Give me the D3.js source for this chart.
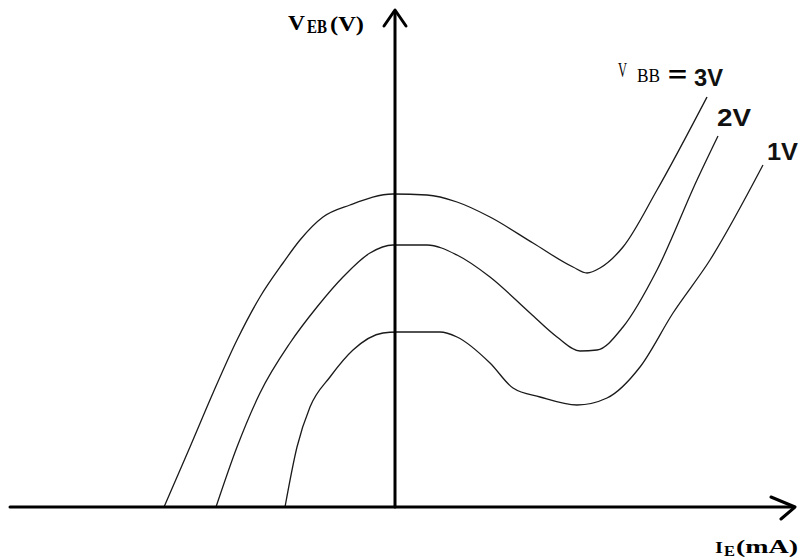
<!DOCTYPE html>
<html>
<head>
<meta charset="utf-8">
<script src="https://cdn.jsdelivr.net/npm/d3@7"></script>
<style>
  html, body { margin: 0; padding: 0; background: #fff; }
  svg { display: block; }
</style>
</head>
<body>
<svg id="chart" width="799" height="558"></svg>
<script>
// Schematic UJT-style characteristic: V_EB vs I_E for three V_BB values (arbitrary units)
const seriesNames = ["3V", "2V", "1V"];
const curve3V_IE = [-23.1, -20.5, -18.2, -15.8, -13.5, -11.2, -9.5, -7.2, -4.5, -0.2, 3.2, 6.2, 9.5, 13.8, 17.8, 19.2, 20.5, 22.8, 26.2, 31.2];
const curve3V_VEB = [0, 6.0, 11.4, 16.7, 21.0, 24.4, 26.7, 29.0, 30.2, 31.3, 31.2, 30.5, 29.0, 26.4, 24.0, 23.4, 23.9, 26.0, 31.7, 41.0];
const curve2V_IE = [-17.9, -15.8, -13.5, -10.5, -7.8, -5.2, -2.5, -0.2, 3.2, 6.2, 9.5, 13.5, 16.2, 18.5, 20.2, 22.8, 26.2, 30.2, 32.3];
const curve2V_VEB = [0, 6.0, 11.4, 16.4, 20.0, 23.0, 25.4, 26.2, 26.2, 25.2, 23.0, 19.4, 17.0, 15.6, 15.7, 18.0, 23.7, 32.7, 37.1];
const curve1V_IE = [-11.0, -9.8, -8.5, -6.5, -4.2, -1.2, 0.2, 4.5, 6.2, 9.5, 11.8, 14.5, 18.2, 21.2, 24.5, 27.8, 31.5, 36.8];
const curve1V_VEB = [0, 6.0, 10.0, 13.0, 15.7, 17.4, 17.5, 17.5, 17.0, 14.4, 11.9, 11.0, 10.2, 10.9, 14.0, 19.4, 24.7, 34.2];

const xDomain = [-38.5, 40];
const yDomain = [0, 49.7];

const svg = d3.select("#chart");
const x = d3.scaleLinear().domain(xDomain).range([10, 795]);
const y = d3.scaleLinear().domain(yDomain).range([507, 10]);

const toPts = (xs, ys) => xs.map((v, i) => [v, ys[i]]);
const curves = [
  toPts(curve3V_IE, curve3V_VEB),
  toPts(curve2V_IE, curve2V_VEB),
  toPts(curve1V_IE, curve1V_VEB)
];

const line = d3.line()
  .x(d => x(d[0]))
  .y(d => y(d[1]))
  .curve(d3.curveMonotoneX);

svg.append("g").selectAll("path")
  .data(curves)
  .join("path")
  .attr("d", line)
  .attr("fill", "none")
  .attr("stroke", "#1a1a1a")
  .attr("stroke-width", 1.3);

// Axes
const ax = svg.append("g").attr("stroke", "#000").attr("fill", "none")
  .attr("stroke-linecap", "round").attr("stroke-linejoin", "round");
ax.append("line")
  .attr("x1", x(xDomain[0])).attr("y1", y(0))
  .attr("x2", x(xDomain[1]) - 2).attr("y2", y(0))
  .attr("stroke-width", 3);
ax.append("line")
  .attr("x1", x(0)).attr("y1", y(0))
  .attr("x2", x(0)).attr("y2", y(yDomain[1]) + 2)
  .attr("stroke-width", 3);
ax.append("path")
  .attr("d", `M${x(0) - 11},${y(yDomain[1]) + 16} L${x(0)},${y(yDomain[1])} L${x(0) + 11},${y(yDomain[1]) + 16}`)
  .attr("stroke-width", 3);
ax.append("path")
  .attr("d", `M${x(xDomain[1]) - 24},${y(0) - 10} L${x(xDomain[1])},${y(0)} L${x(xDomain[1]) - 14},${y(0) + 12}`)
  .attr("stroke-width", 3);

// helper for fitted text pieces
function piece(g, txt, px, py, size, len, family, weight) {
  g.append("text")
    .attr("x", px).attr("y", py)
    .attr("font-family", family)
    .attr("font-weight", weight)
    .attr("font-size", size)
    .attr("textLength", len)
    .attr("lengthAdjust", "spacingAndGlyphs")
    .attr("fill", "#000")
    .text(txt);
}
const SERIF = "'Liberation Serif', 'DejaVu Serif', serif";
const SANS = "'Liberation Sans', Arial, sans-serif";

// y-axis label V_EB(V)
const yl = svg.append("g");
piece(yl, "V", 288, 30, 20, 17, SERIF, "bold");
piece(yl, "EB", 307, 33, 18, 20, SERIF, "bold");
piece(yl, "(V)", 330, 31, 22, 34, SERIF, "bold");

// x-axis label I_E(mA)
const xl = svg.append("g");
piece(xl, "I", 715, 553, 17, 8, SERIF, "bold");
piece(xl, "E", 724, 556, 14, 11, SERIF, "bold");
piece(xl, "(mA)", 736, 553, 18, 62, SERIF, "bold");

// V_BB = legend text
const lg = svg.append("g");
piece(lg, "V", 618, 77, 22, 9, SERIF, "normal");
piece(lg, "BB", 637, 82, 18, 23, SERIF, "normal");
piece(lg, "=", 668, 82, 22, 19, SANS, "bold");

// Series labels
const seriesLabelPos = [[694, 86, 23, 29], [717, 126, 24, 34], [767, 160, 24, 31]];
svg.append("g").selectAll("text")
  .data(seriesNames)
  .join("text")
  .attr("x", (d, i) => seriesLabelPos[i][0])
  .attr("y", (d, i) => seriesLabelPos[i][1])
  .attr("font-size", (d, i) => seriesLabelPos[i][2])
  .attr("textLength", (d, i) => seriesLabelPos[i][3])
  .attr("lengthAdjust", "spacingAndGlyphs")
  .attr("font-family", SANS)
  .attr("font-weight", "bold")
  .attr("fill", "#111")
  .text(d => d);
</script>
</body>
</html>
